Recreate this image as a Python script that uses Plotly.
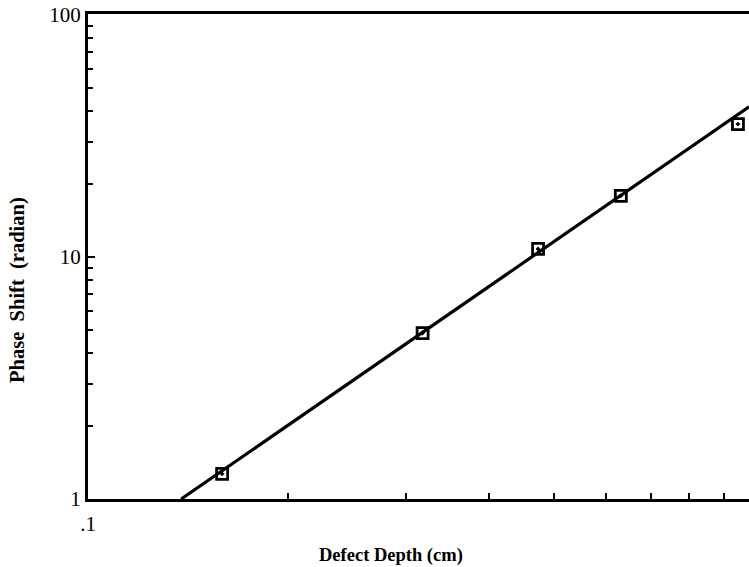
import plotly.graph_objects as go

# Measured data
depth_cm = [0.159, 0.318, 0.474, 0.631, 0.946]
phase_rad = [1.27, 4.85, 10.8, 17.9, 35.4]

# Fitted power-law line (endpoints)
fit_depth = [0.138, 0.983]
fit_phase = [1.0, 41.7]

x_tickvals = [0.1]
x_ticktext = [".1"]
x_minor = [0.2, 0.3, 0.4, 0.5, 0.6, 0.7, 0.8, 0.9]
y_tickvals = [1, 10, 100]
y_ticktext = ["1", "10", "100"]
y_minor = [2, 3, 4, 5, 6, 7, 8, 9, 20, 30, 40, 50, 60, 70, 80, 90]

FONT = "Liberation Serif"

fig = go.Figure()
fig.add_trace(go.Scatter(
    x=fit_depth, y=fit_phase, mode="lines",
    line=dict(color="black", width=3.2), showlegend=False, cliponaxis=True))
fig.add_trace(go.Scatter(
    x=depth_cm, y=phase_rad, mode="markers",
    marker=dict(symbol="square-open-dot", size=11, color="black",
                line=dict(color="black", width=2.8)),
    showlegend=False))

fig.update_xaxes(
    type="log", range=[-1, -0.0075],
    showline=True, linecolor="black", linewidth=3, mirror=True,
    showgrid=False, zeroline=False,
    ticks="inside", ticklen=7, tickwidth=2, tickcolor="black",
    tickvals=x_tickvals, ticktext=x_ticktext, ticklabelstandoff=4,
    minor=dict(tickvals=x_minor, ticks="inside", ticklen=6, tickwidth=2,
               tickcolor="black", showgrid=False),
    tickfont=dict(family=FONT, size=21, color="black"),
)
fig.update_yaxes(
    type="log", range=[0, 2.004],
    showline=True, linecolor="black", linewidth=3, mirror=False,
    showgrid=False, zeroline=False,
    ticks="inside", ticklen=7, tickwidth=2, tickcolor="black",
    tickvals=y_tickvals, ticktext=y_ticktext,
    minor=dict(tickvals=y_minor, ticks="inside", ticklen=5, tickwidth=2,
               tickcolor="black", showgrid=False),
    tickfont=dict(family=FONT, size=21, color="black"),
)

fig.add_annotation(
    text="<b>Defect Depth (cm)</b>", xref="paper", yref="paper",
    x=0.458, y=-0.1175, showarrow=False, xanchor="center", yanchor="middle",
    font=dict(family=FONT, size=18.5, color="black"))
fig.add_annotation(
    text="<b>Phase  Shift  (radian)</b>", xref="paper", yref="paper",
    x=-0.106, y=0.431, showarrow=False, xanchor="center", yanchor="middle",
    textangle=-90, font=dict(family=FONT, size=20.5, color="black"))

fig.update_layout(
    width=749, height=567,
    margin=dict(l=88, r=0, t=14, b=68),
    paper_bgcolor="white", plot_bgcolor="white",
)

fig.write_html("out.html")
